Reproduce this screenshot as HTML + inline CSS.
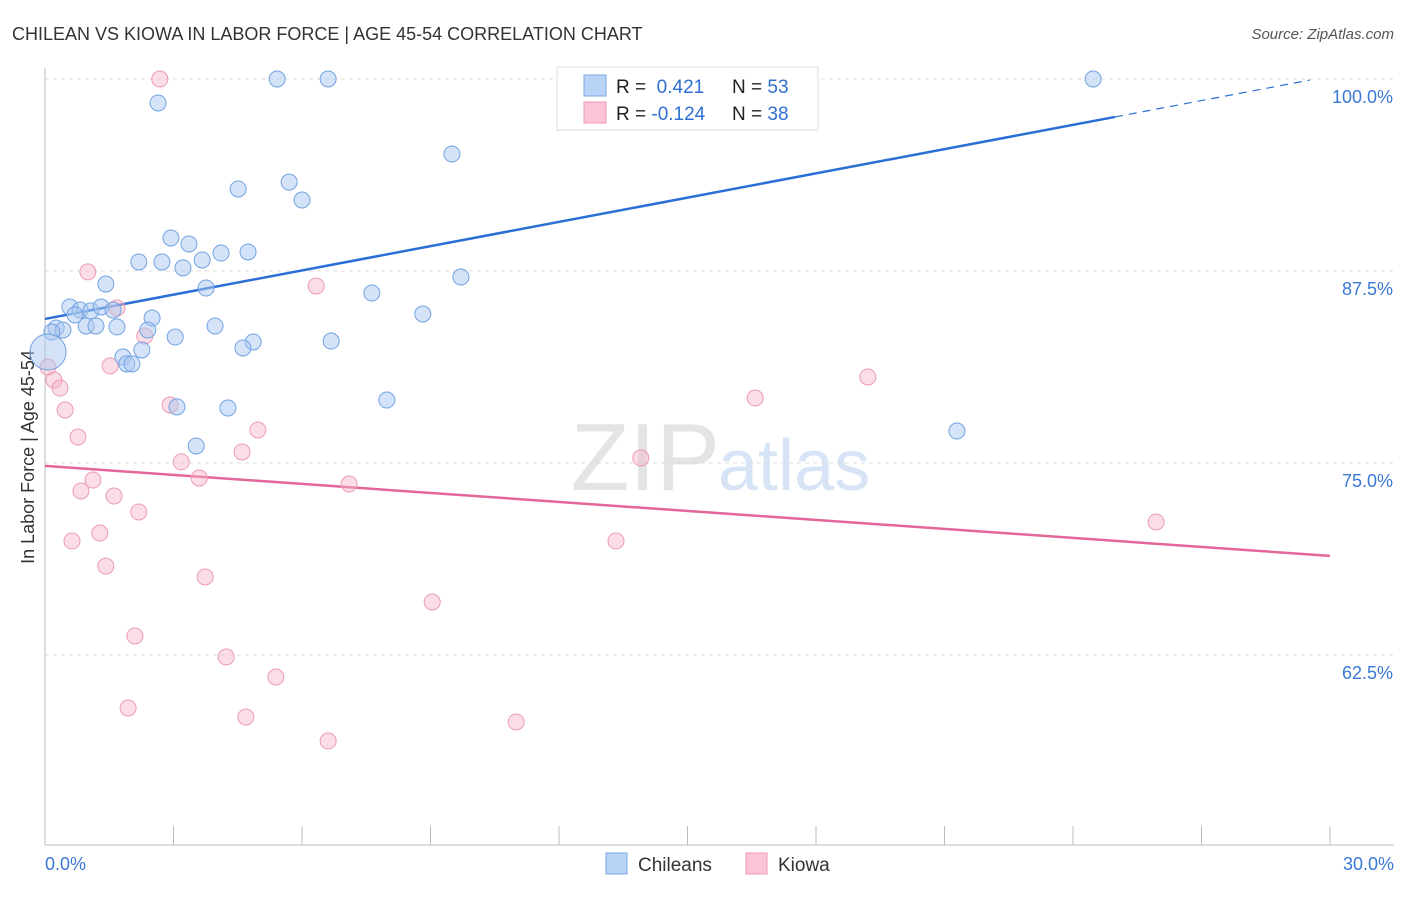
<!DOCTYPE html>
<html><head><meta charset="utf-8"><style>
body{margin:0;background:#fff;font-family:"Liberation Sans",sans-serif}
svg text{font-family:"Liberation Sans",sans-serif}
</style></head><body>
<svg id="c" width="1406" height="892" xmlns="http://www.w3.org/2000/svg">
<text x="12" y="40" font-size="18" fill="#333">CHILEAN VS KIOWA IN LABOR FORCE | AGE 45-54 CORRELATION CHART</text>
<text x="1394" y="39" font-size="15" fill="#555" font-style="italic" text-anchor="end">Source: ZipAtlas.com</text>
<text x="720" y="490" font-size="96" fill="#e4e4e4" text-anchor="end" font-family="Liberation Serif">ZIP</text>
<text x="718" y="490" font-size="72" fill="#d6e4f5">atlas</text>
<text transform="translate(34,457) rotate(-90)" font-size="18" fill="#333" text-anchor="middle">In Labor Force | Age 45-54</text>
<g id="grid"></g><g id="ticks"></g><g id="trend"></g><g id="pts"></g>
<g>
<rect x="557" y="67" width="261" height="63" fill="#fff" stroke="#ddd"/>
<rect x="584" y="75" width="22" height="21" fill="#b8d3f5" stroke="#7aaae6"/>
<rect x="584" y="102" width="22" height="21" fill="#fcc5d5" stroke="#ee9ab5"/>
<text x="616" y="93" font-size="19" fill="#222">R = <tspan fill="#2f6fd1">&#160;0.421</tspan></text>
<text x="732" y="93" font-size="19" fill="#222">N = <tspan fill="#2f6fd1">53</tspan></text>
<text x="616" y="120" font-size="19" fill="#222">R = <tspan fill="#2f6fd1">-0.124</tspan></text>
<text x="732" y="120" font-size="19" fill="#222">N = <tspan fill="#2f6fd1">38</tspan></text>
</g>
<g>
<rect x="606" y="853" width="21" height="21" fill="#b8d3f5" stroke="#7aaae6"/>
<text x="638" y="871" font-size="19" fill="#333">Chileans</text>
<rect x="746" y="853" width="21" height="21" fill="#fcc5d5" stroke="#ee9ab5"/>
<text x="778" y="871" font-size="19" fill="#333">Kiowa</text>
</g>
</svg>
<script>
const yTicks=[100,87.5,75,62.5];
const yTickLabels=["100.0%","87.5%","75.0%","62.5%"];
const xTickLabels=["0.0%","30.0%"];
const blueX=[5.42,6.61,14.17,24.47,2.64,12.30,9.50,4.51,5.70,6.00,2.94,3.36,2.19,2.73,3.22,3.67,4.11,4.74,9.71,1.42,3.76,7.63,0.58,0.82,1.07,1.31,1.59,0.70,8.82,2.50,0.26,0.42,0.16,0.96,1.19,1.68,2.40,3.04,3.97,6.68,4.86,4.62,2.26,1.82,1.91,2.03,7.98,3.08,4.27,3.53,21.29,0.07];
const blueY=[100,100,100,100,98.44,98.05,95.12,92.84,93.29,92.12,89.65,89.26,88.09,88.09,87.70,88.22,88.67,88.74,87.11,86.65,86.39,86.07,85.16,84.96,84.90,85.16,84.96,84.64,84.70,84.44,83.79,83.66,83.53,83.92,83.92,83.86,83.66,83.20,83.92,82.94,82.88,82.49,82.36,81.90,81.45,81.45,79.10,78.65,78.58,76.11,77.08,82.23];
const blueR=[8,8,8,8,8,8,8,8,8,8,8,8,8,8,8,8,8,8,8,8,8,8,8,8,8,8,8,8,8,8,8,8,8,8,8,8,8,8,8,8,8,8,8,8,8,8,8,8,8,8,8,18];
const pinkX=[2.68,1.00,6.33,1.68,2.33,1.52,0.07,0.21,0.35,19.21,0.47,2.92,16.58,4.97,0.77,4.60,3.18,13.91,1.12,3.60,7.10,0.84,1.61,2.19,25.94,1.28,0.63,13.33,1.42,3.74,9.04,2.10,4.23,5.39,1.94,4.69,11.00,6.61];
const pinkY=[100,87.44,86.52,85.09,83.27,81.32,81.25,80.40,79.88,80.60,78.45,78.78,79.23,77.15,76.69,75.72,75.07,75.33,73.89,74.02,73.63,73.18,72.85,71.81,71.16,70.44,69.92,69.92,68.29,67.58,65.95,63.74,62.37,61.07,59.05,58.46,58.14,56.90];
const blueTrend=[0,84.38,24.98,97.53,29.53,99.93];
const pinkTrend=[0,74.81,30,68.95];
const NS="http://www.w3.org/2000/svg";
const X=v=>45+v/30*1285, Y=v=>79+(100-v)/12.5*192;
function mk(t,a,p){const e=document.createElementNS(NS,t);for(const k in a)e.setAttribute(k,a[k]);document.getElementById(p).appendChild(e);return e;}
yTicks.forEach((t,i)=>{
 const l=mk('line',{x1:45,x2:1394,y1:Y(t),y2:Y(t),stroke:'#ddd','stroke-dasharray':'4,4'},'grid');
 
 
 const tx=mk('text',{x:1393,y:Y(t)+24,'font-size':18,fill:'#3a78d6','text-anchor':'end'},'ticks');
 tx.textContent=yTickLabels[i];
 
 
});
const ax=mk('line',{x1:45,x2:1394,y1:845,y2:845,stroke:'#bbb'},'ticks');


const ay=mk('line',{x1:45,x2:45,y1:68,y2:845,stroke:'#bbb'},'ticks');


for(let i=0;i<=10;i++){const t=mk('line',{x1:X(i*3),x2:X(i*3),y1:826,y2:845,stroke:'#bbb'},'ticks');
 
 }
[[0,'start',45],[30,'end',1394]].forEach((d,i)=>{const t=mk('text',{x:d[2],y:870,'font-size':18,fill:'#3a78d6','text-anchor':d[1]},'ticks');t.textContent=xTickLabels[i];
 
 });
for(let i=0;i<pinkX.length;i++){const c=mk('circle',{cx:X(pinkX[i]),cy:Y(pinkY[i]),r:8,fill:'rgba(246,180,200,0.45)',stroke:'#ec9bb5','stroke-width':1},'pts');
 
 }
for(let i=0;i<blueX.length;i++){const c=mk('circle',{cx:X(blueX[i]),cy:Y(blueY[i]),r:blueR[i],fill:'rgba(169,200,240,0.5)',stroke:'#72a3e3','stroke-width':1},'pts');
 
 }
const b1=mk('line',{x1:X(blueTrend[0]),y1:Y(blueTrend[1]),x2:X(blueTrend[2]),y2:Y(blueTrend[3]),stroke:'#2b6fd6','stroke-width':2.5},'trend');


const b2=mk('line',{x1:X(blueTrend[2]),y1:Y(blueTrend[3]),x2:X(blueTrend[4]),y2:Y(blueTrend[5]),stroke:'#2b6fd6','stroke-width':1.2,'stroke-dasharray':'8,6'},'trend');


const p1=mk('line',{x1:X(pinkTrend[0]),y1:Y(pinkTrend[1]),x2:X(pinkTrend[2]),y2:Y(pinkTrend[3]),stroke:'#e4669a','stroke-width':2.5},'trend');


</script>
</body></html>
